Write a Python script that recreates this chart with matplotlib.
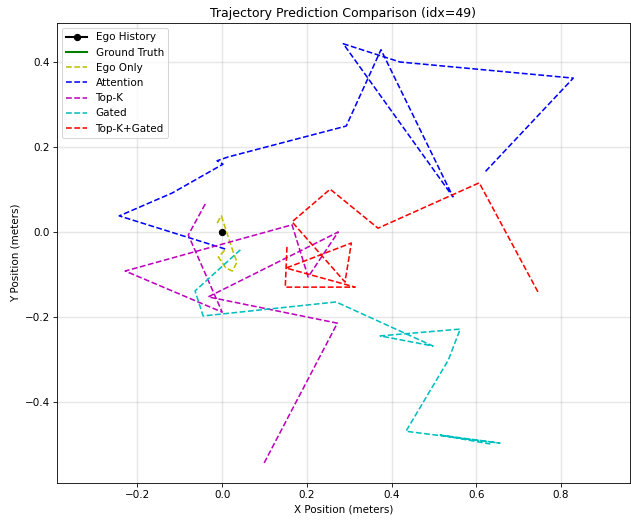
import matplotlib
matplotlib.use("Agg")
import matplotlib.pyplot as plt

# Ego history & ground truth
ego_x = [0.0]
ego_y = [0.0]
gt_x = [0.0]
gt_y = [0.0]

# Ego only
ego_only_x = [-0.012, -0.002, 0.026, 0.035, 0.024, 0.009, -0.009, 0.009]
ego_only_y = [0.021, 0.038, -0.047, -0.071, -0.092, -0.085, -0.059, -0.040]

# Attention
att_x = [0.007, -0.243, -0.118, 0.002, -0.012, 0.014, 0.293, 0.375, 0.545, 0.286, 0.420, 0.829, 0.621]
att_y = [-0.040, 0.038, 0.092, 0.160, 0.168, 0.177, 0.250, 0.430, 0.083, 0.444, 0.401, 0.363, 0.142]

# Top-K
topk_x = [-0.040, -0.080, 0.000, -0.229, 0.165, 0.203, 0.274, -0.033, 0.272, 0.099]
topk_y = [0.066, -0.007, -0.189, -0.092, 0.017, -0.106, 0.000, -0.153, -0.215, -0.545]

# Gated
gated_x = [0.043, -0.064, -0.045, 0.269, 0.498, 0.373, 0.562, 0.534, 0.434, 0.656, 0.515, 0.633]
gated_y = [-0.042, -0.139, -0.198, -0.165, -0.269, -0.245, -0.229, -0.302, -0.470, -0.498, -0.479, -0.500]

# Top-K + Gated
tkg_x = [0.153, 0.149, 0.314, 0.151, 0.305, 0.290, 0.165, 0.255, 0.368, 0.607, 0.746]
tkg_y = [-0.035, -0.130, -0.130, -0.085, -0.026, -0.118, 0.024, 0.101, 0.009, 0.116, -0.142]

DPI = 75
fig = plt.figure(figsize=(631/DPI, 521/DPI), dpi=DPI)
ax = fig.add_axes([57/631, 1-483/521, (630-57)/631, (483-23)/521])

ax.plot(ego_x, ego_y, 'k-o', label='Ego History', linewidth=2)
ax.plot(gt_x, gt_y, 'g-', label='Ground Truth', linewidth=2)
ax.plot(ego_only_x, ego_only_y, 'y--', label='Ego Only', linewidth=1.5)
ax.plot(att_x, att_y, 'b--', label='Attention', linewidth=1.5)
ax.plot(topk_x, topk_y, 'm--', label='Top-K', linewidth=1.5)
ax.plot(gated_x, gated_y, 'c--', label='Gated', linewidth=1.5)
ax.plot(tkg_x, tkg_y, 'r--', label='Top-K+Gated', linewidth=1.5)

ax.set_xlim(-0.39, 0.963)
ax.set_ylim(-0.592, 0.493)
ax.set_xticks([-0.2, 0.0, 0.2, 0.4, 0.6, 0.8])
ax.set_yticks([-0.4, -0.2, 0.0, 0.2, 0.4])
ax.grid(True, alpha=0.3, linewidth=1.4)
ax.set_xlabel('X Position (meters)')
ax.set_ylabel('Y Position (meters)')
ax.set_title('Trajectory Prediction Comparison (idx=49)')
ax.legend(loc='upper left')

fig.savefig('out.png', dpi=DPI)
